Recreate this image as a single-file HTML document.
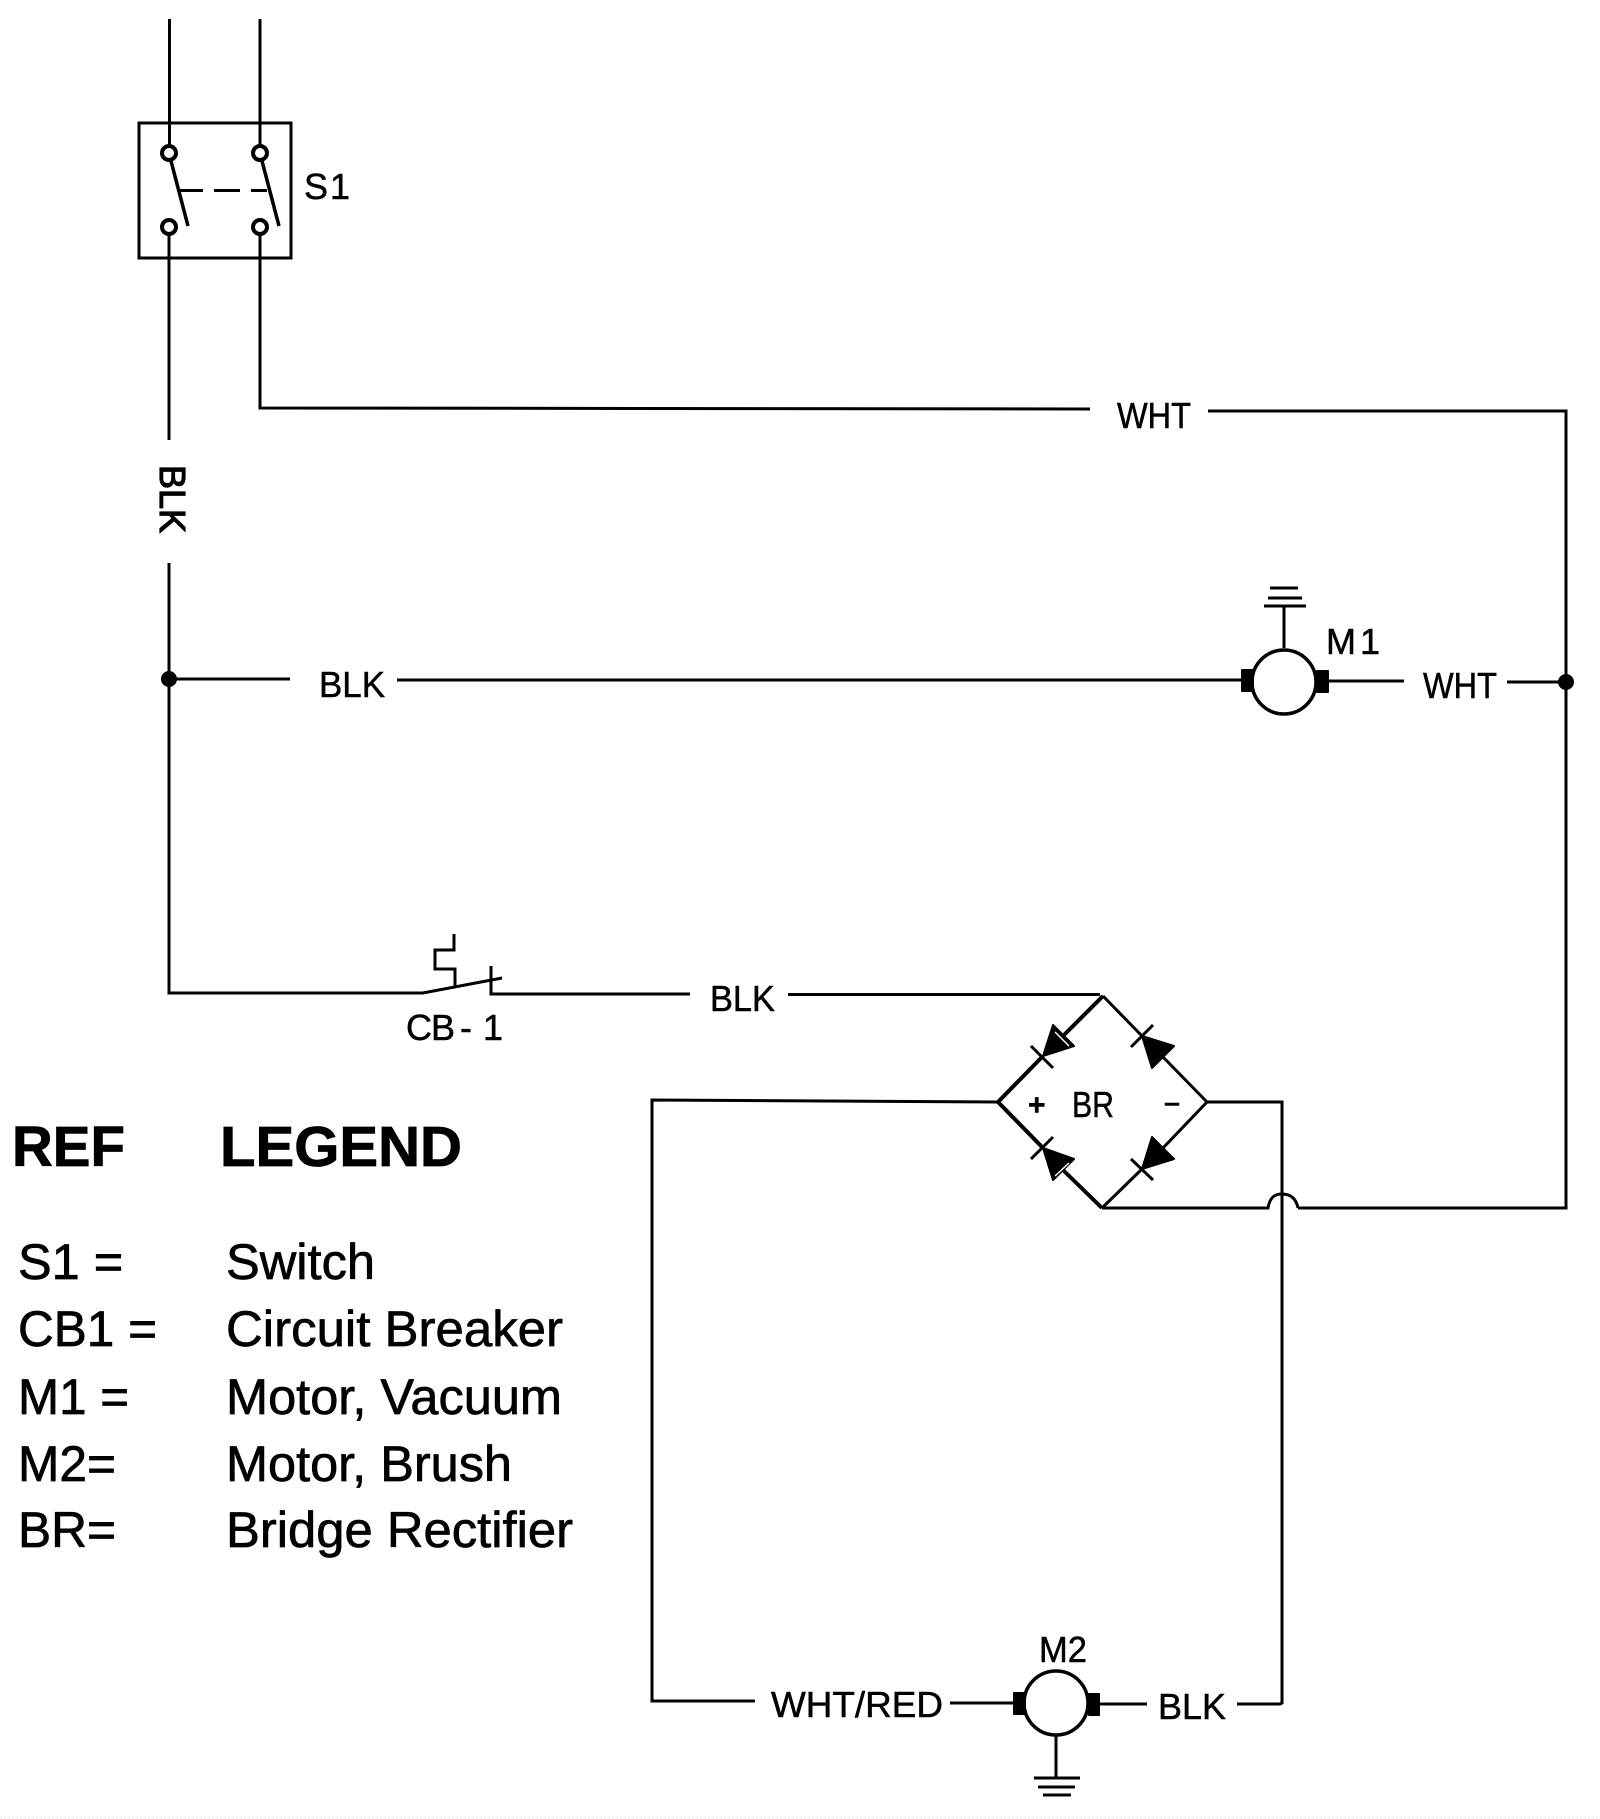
<!DOCTYPE html>
<html><head><meta charset="utf-8"><style>html,body{margin:0;padding:0;background:#fff}svg{display:block}</style></head>
<body>
<svg width="1600" height="1819" viewBox="0 0 1600 1819" xmlns="http://www.w3.org/2000/svg">
<rect width="1600" height="1819" fill="#fff"/>
<g fill="none" stroke="#000" stroke-width="3">
<!-- switch -->
<path d="M169.500 19V146M260 19V146"/>
<rect x="139" y="123" width="152" height="135"/>
<g stroke-width="4"><circle cx="169" cy="153" r="7"/><circle cx="260" cy="153" r="7"/>
<circle cx="169" cy="227" r="7"/><circle cx="260" cy="227" r="7"/></g>
<path d="M171 161L188 226M262 161L279 226" stroke-width="3.500"/>
<path d="M180 190.500H203M214 190.500H240M251 190.500H267"/>
<!-- wires -->
<path d="M169 234V440M169 563V993H423L502 978"/>
<path d="M260 234V408L1090 409M1208 411H1566V1208H1298"/>
<path d="M169 679H290M397 680H1243"/>
<path d="M1329 681H1404M1507 682H1565"/>
<path d="M491 966V994H690M788 994.500H1100"/>
<path d="M454 934V950H435V969H455V987" />
<!-- M1 -->
<circle cx="1284" cy="682" r="32" stroke-width="3.500"/>
<path d="M1284 606V648M1264 606H1306M1268 598H1302M1270 588H1298"/>
<!-- bridge -->
<path d="M1103 996L1063 1036M1043 1056L998 1102L1043 1148M1063 1170L1102 1208" stroke-width="4"/>
<path d="M1102 1208L1142 1169M1163 1148L1207 1102L1163 1057M1142 1036L1103 996" stroke-width="3"/>
<path d="M1031 1046L1053 1068M1131 1047L1153 1025M1031 1159L1053 1137M1131 1159L1153 1180"/>
<path d="M998 1102L652 1100V1701H755M950 1703H1015M1099 1704H1147M1237 1704H1280L1282 1703V1102H1207"/>
<path d="M1102 1208H1268C1270 1196 1276 1194 1282 1194C1290 1194 1296 1198 1298 1208"/>
<!-- M2 -->
<circle cx="1056" cy="1703" r="32" stroke-width="3.500"/>
<path d="M1056 1735V1777M1034 1778H1080M1038 1787H1075M1043 1795H1071"/>
</g>
<g fill="#000" stroke="#000" stroke-width="2" stroke-linejoin="round">
<circle cx="169" cy="679" r="7"/><circle cx="1566" cy="682" r="7"/>
<rect x="1242" y="670" width="11" height="21"/><rect x="1317" y="671" width="11" height="21"/>
<rect x="1014" y="1693" width="11" height="21"/><rect x="1089" y="1694" width="10" height="21"/>
<polygon points="1043,1056 1053,1025 1074,1046"/>
<polygon points="1142,1036 1174,1046 1152,1068"/>
<polygon points="1043,1148 1074,1159 1053,1180"/>
<polygon points="1142,1169 1152,1137 1174,1159"/>
</g>
<path d="M1055 1032L1069 1046M1069 1163L1055 1176" stroke="#fff" stroke-width="1.500" fill="none"/>
<path d="M0 1818H1600" stroke="#e8e8e8" stroke-width="1" stroke-dasharray="2 2"/>
<g font-family="'Liberation Sans',sans-serif" font-size="36" fill="#000" stroke="#000" stroke-width="0.500">
<text x="304 330" y="199">S1</text>
<text x="1117" y="428" textLength="74" lengthAdjust="spacingAndGlyphs">WHT</text>
<text x="319" y="697" textLength="66" lengthAdjust="spacingAndGlyphs">BLK</text>
<text x="1423" y="698" textLength="74" lengthAdjust="spacingAndGlyphs">WHT</text>
<text x="1326 1360" y="654">M1</text>
<text x="406 431 460 483" y="1040">CB-1</text>
<text x="710" y="1011" textLength="65" lengthAdjust="spacingAndGlyphs">BLK</text>
<text x="1072" y="1117" textLength="42" lengthAdjust="spacingAndGlyphs">BR</text>
<text x="771" y="1717" textLength="172" lengthAdjust="spacingAndGlyphs">WHT/RED</text>
<text x="1039" y="1662" textLength="48" lengthAdjust="spacingAndGlyphs">M2</text>
<text x="1158" y="1719" textLength="68" lengthAdjust="spacingAndGlyphs">BLK</text>
<text x="1028" y="1115" font-size="30" font-weight="bold">+</text>
<rect x="1165" y="1103" width="14" height="2.500"/>
<text transform="translate(160 465) rotate(90)" textLength="68" lengthAdjust="spacingAndGlyphs" stroke-width="1.200">BLK</text>
</g>
<g font-family="'Liberation Sans',sans-serif" fill="#000" stroke="#000">
<g font-size="57" font-weight="bold" stroke-width="0.800">
<text x="12" y="1166" textLength="113" lengthAdjust="spacingAndGlyphs">REF</text>
<text x="220" y="1166" textLength="242" lengthAdjust="spacingAndGlyphs">LEGEND</text>
</g>
<g font-size="50.500" stroke-width="0.700">
<text x="18" y="1279">S1 =</text><text x="226" y="1279" textLength="149" lengthAdjust="spacingAndGlyphs">Switch</text>
<text x="18" y="1346" textLength="139" lengthAdjust="spacingAndGlyphs">CB1 =</text><text x="226" y="1346" textLength="337" lengthAdjust="spacingAndGlyphs">Circuit Breaker</text>
<text x="18" y="1414" textLength="111" lengthAdjust="spacingAndGlyphs">M1 =</text><text x="226" y="1414" textLength="336" lengthAdjust="spacingAndGlyphs">Motor, Vacuum</text>
<text x="18" y="1481" textLength="98" lengthAdjust="spacingAndGlyphs">M2=</text><text x="226" y="1481" textLength="286" lengthAdjust="spacingAndGlyphs">Motor, Brush</text>
<text x="18" y="1547" textLength="98" lengthAdjust="spacingAndGlyphs">BR=</text><text x="226" y="1547" textLength="347" lengthAdjust="spacingAndGlyphs">Bridge Rectifier</text>
</g>
</g>
</svg>
</body></html>
